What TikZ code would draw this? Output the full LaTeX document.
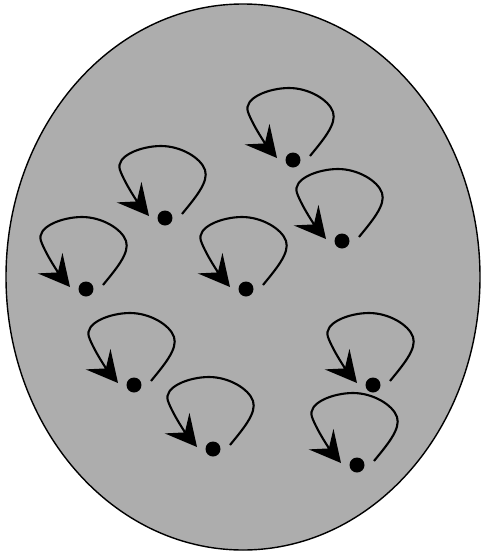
\documentclass[tikz,border=0pt]{standalone}
\usepackage{tikz}
\usetikzlibrary{arrows.meta}
\definecolor{SetFill}{HTML}{ADADAD}
\tikzset{
  dot/.style={circle,fill=black,inner sep=0pt,minimum size=0.3cm},
  selfarc/.style={line width=1.2pt,-{Stealth[length=6.2mm,width=6.4mm,inset=2.4mm]}},
}
\begin{document}
\begin{tikzpicture}[x=0.02cm,y=-0.02cm]
  \useasboundingbox (0,0) rectangle (487,555);
  \draw[fill=SetFill,line width=0.8pt] (243,277) ellipse [x radius=237,y radius=273];
  \foreach \x/\y [count=\i] in {293/160,165/218,342/241,86/289,246/289,134/385,373/385,213/449,357/465}{
    \begin{scope}[shift={(\x,\y)}]
      \node[dot] (d\i) at (0,0) {};
      \coordinate (s\i) at (17,-4);
      \coordinate (e\i) at (-16,-2);
      \draw[selfarc] (s\i) .. controls (30,-20) and (44,-36) .. (40,-48)
        .. controls (36,-60) and (16,-72) .. (-4,-72)
        .. controls (-24,-72) and (-50,-62) .. (-45,-48)
        .. controls (-40,-34) and (-26,-14) .. (e\i);
    \end{scope}
  }
\end{tikzpicture}
\end{document}
